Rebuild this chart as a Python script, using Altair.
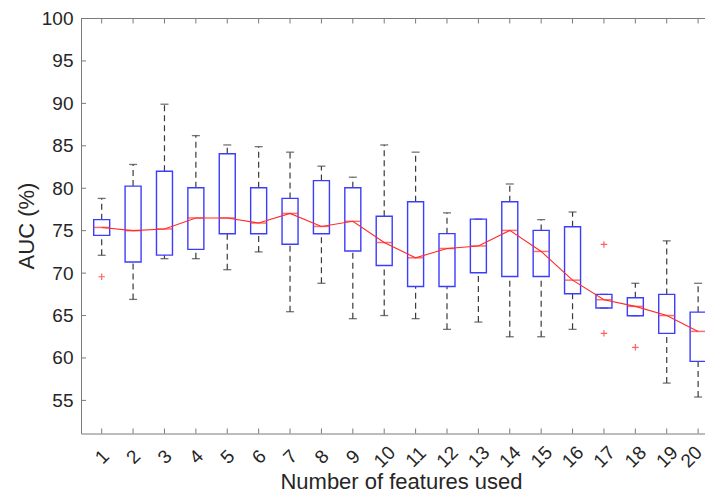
import altair as alt
import pandas as pd

# ---- data ----
features = list(range(1, 21))
whisker_hi = [78.8, 82.8, 89.9, 86.2, 85.1, 84.9, 84.25, 82.6, 81.3, 85.1,
              84.25, 77.1, 76.36, 80.5, 76.3, 77.2, 67.49, 68.8, 73.8, 68.8]
q3 = [76.3, 80.25, 82.0, 80.05, 84.06, 80.05, 78.8, 80.9, 80.05, 76.7,
      78.4, 74.65, 76.36, 78.4, 75.03, 75.46, 67.49, 67.1, 67.49, 65.4]
median = [75.38, 75.0, 75.2, 76.5, 76.5, 75.9, 77.03, 75.5, 76.1, 73.6,
          71.8, 72.9, 73.2, 75.03, 72.55, 69.17, 66.86, 66.08, 65.0, 63.13]
q1 = [74.44, 71.3, 72.12, 72.8, 74.64, 74.64, 73.4, 74.64, 72.6, 70.9,
      68.43, 68.43, 70.04, 69.6, 69.6, 67.57, 65.88, 64.98, 62.9, 59.6]
whisker_lo = [72.1, 66.9, 71.7, 71.7, 70.4, 72.5, 65.45, 68.8, 64.63, 65.0,
              64.63, 63.37, 64.23, 62.5, 62.5, 63.37, 65.88, 64.98, 57.04, 55.4]
outlier_x = [1, 17, 17, 18]
outlier_y = [69.57, 73.38, 62.9, 61.25]
y_ticks = [55, 60, 65, 70, 75, 80, 85, 90, 95, 100]

df = pd.DataFrame({"k": features, "whi": whisker_hi, "q3": q3, "med": median,
                   "q1": q1, "wlo": whisker_lo})
out = pd.DataFrame({"k": outlier_x, "v": outlier_y})
ytk = pd.DataFrame({"v": y_ticks})

W, H = 624, 415
FONT = "Liberation Sans"
AX = "#7a7a7a"
TXT = "#262626"

xs = alt.Scale(domain=[0.5, 20.06], nice=False, zero=False)
ys = alt.Scale(domain=[51.1, 100], nice=False, zero=False)

xaxis = alt.Axis(values=features, format="d", labelAngle=315, labelAlign="center",
                 labelBaseline="middle", ticks=False, tickSize=0, labelPadding=23,
                 labelOffset={"condition": {"test": "datum.value == 20", "value": -7},
                              "value": 0},
                 grid=False, domainColor=AX, labelFont=FONT, labelFontSize=19,
                 labelColor=TXT, title="Number of features used", titleFont=FONT,
                 titleFontSize=22, titleFontWeight="normal", titleColor=TXT,
                 titleX=320, titleY=55, titleBaseline="alphabetic",
                 labelOverlap=False)
X = alt.X("k:Q", scale=xs, axis=xaxis)
Yax = alt.Axis(values=y_ticks, ticks=False, tickSize=0, labelPadding=8, grid=False,
               domainColor=AX, labelFont=FONT, labelFontSize=19, labelColor=TXT,
               title="AUC (%)", titleFont=FONT, titleFontSize=22, titleFontWeight="normal",
               titleColor=TXT, titleX=-48, titleY=207, titleBaseline="alphabetic",
               labelOverlap=False)
Y = lambda f: alt.Y(f, scale=ys, axis=Yax)

base = alt.Chart(df)
WH = "#3a3a3a"

up_whisk = base.mark_rule(color=WH, strokeDash=[6, 4], strokeWidth=1.2).encode(
    x=X, y=Y("q3:Q"), y2="whi:Q")
lo_whisk = base.mark_rule(color=WH, strokeDash=[6, 4], strokeWidth=1.2).encode(
    x=X, y=Y("wlo:Q"), y2="q1:Q")
cap_hi = base.mark_tick(orient="horizontal", color=WH, size=8, thickness=1.3).encode(
    x=X, y=Y("whi:Q"))
cap_lo = base.mark_tick(orient="horizontal", color=WH, size=8, thickness=1.3).encode(
    x=X, y=Y("wlo:Q"))
boxes = base.mark_bar(size=16, fill="white", fillOpacity=0, stroke="#3c3cff",
                      strokeWidth=1.4).encode(x=X, y=Y("q1:Q"), y2="q3:Q")
med = base.mark_tick(orient="horizontal", color="#ff3030", size=16, thickness=1.5).encode(
    x=X, y=Y("med:Q"))
line = base.mark_line(color="#ff2a2a", strokeWidth=1.1).encode(x=X, y=Y("med:Q"))
pts = alt.Chart(out).mark_point(shape="M-1,0L1,0M0,-1L0,1", filled=False, color="#ff2020",
                                size=42, strokeWidth=1.2).encode(x=X, y=Y("v:Q"))

# frame: top line and inward ticks
top_line = alt.Chart(ytk).mark_rule(color=AX, strokeWidth=1).encode(
    x=alt.value(0), x2=alt.value(W + 10), y=alt.value(0))
tick_bot = base.mark_rule(color=AX).encode(x=X, y=alt.value(H), y2=alt.value(H - 5))
tick_top = base.mark_rule(color=AX).encode(x=X, y=alt.value(0), y2=alt.value(5))
tick_left = alt.Chart(ytk).mark_rule(color=AX).encode(
    y=Y("v:Q"), x=alt.value(0), x2=alt.value(5))

chart = alt.layer(up_whisk, lo_whisk, cap_hi, cap_lo, boxes, med, line, pts,
                  top_line, tick_bot, tick_top, tick_left).properties(
    width=W, height=H,
    autosize=alt.AutoSizeParams(type="none"),
    padding={"left": 73, "top": 10.5, "right": 0, "bottom": 60},
    background="white",
).configure_view(strokeWidth=0).configure_axis(labelOverlap=False)

chart.save("out.html", embed_options={"renderer": "svg", "actions": False})
